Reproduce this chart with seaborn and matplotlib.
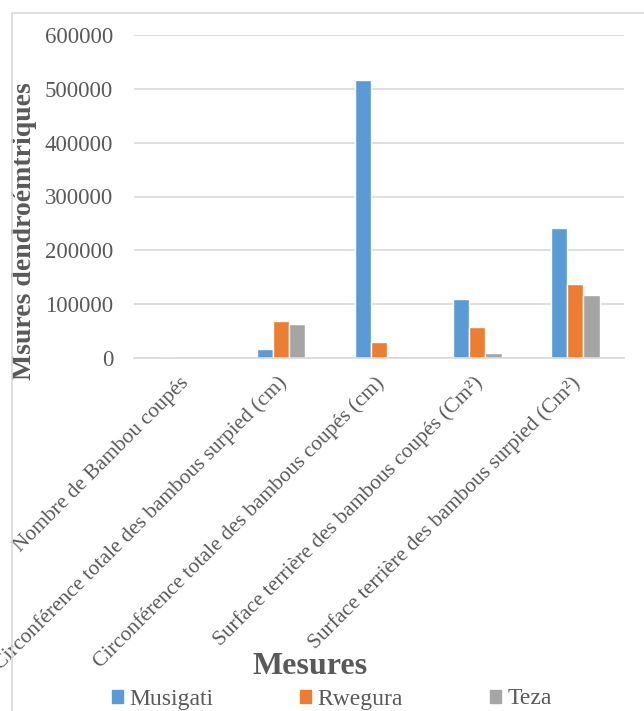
import numpy as np
import pandas as pd
import matplotlib
matplotlib.use("Agg")
import matplotlib.pyplot as plt
import matplotlib.transforms as mtransforms
from matplotlib.patches import Rectangle
from matplotlib.font_manager import FontProperties
import seaborn as sns

mesures = [
    "Nombre de Bambou coupés",
    "Circonférence totale des bambous surpied (cm)",
    "Circonférence totale des bambous coupés (cm)",
    "Surface terrière des bambous coupés (Cm²)",
    "Surface terrière des bambous surpied (Cm²)",
]
sites = ["Musigati", "Rwegura", "Teza"]
musigati = [1000, 16000, 516000, 110000, 241500]
rwegura = [500, 68500, 29500, 58500, 137500]
teza = [200, 63000, 4500, 8500, 117000]
yticks = [0, 100000, 200000, 300000, 400000, 500000, 600000]

colors = ["#5B9BD5", "#ED7D31", "#A5A5A5"]
TXT = "#595959"
GRID = "#D9D9D9"
SERIF = ["Liberation Serif", "DejaVu Serif"]

df = pd.DataFrame({
    "Mesure": mesures * 3,
    "Site": [s for s in sites for _ in mesures],
    "Valeur": musigati + rwegura + teza,
})

sns.set_theme(style="white")
plt.rcParams["font.family"] = SERIF

fig = plt.figure(figsize=(6.44, 7.11), dpi=100)
ax = fig.add_axes([134 / 644, 1 - 358 / 711, 490 / 644, 323 / 711])

sns.barplot(data=df, x="Mesure", y="Valeur", hue="Site", palette=colors,
            width=0.5, saturation=1, ax=ax, legend=False)

ax.set_ylim(0, 600000)
ax.set_yticks(yticks)
ax.set_yticklabels([str(v) for v in yticks], fontsize=16.5, color=TXT)
ax.yaxis.grid(True, color=GRID, lw=1.2)
ax.set_axisbelow(True)
for s in ["top", "right", "left"]:
    ax.spines[s].set_visible(False)
ax.spines["bottom"].set_color(GRID)
ax.spines["bottom"].set_linewidth(1.2)
ax.tick_params(axis="both", length=0)
ax.tick_params(axis="y", pad=15)
ax.tick_params(axis="x", pad=16)

ax.set_xticks(range(len(mesures)))
ax.set_xticklabels(mesures, rotation=45, ha="right", va="center",
                   rotation_mode="anchor", fontsize=15.4, color=TXT)
shift = mtransforms.ScaledTranslation(0.03, 0, fig.dpi_scale_trans)
for lab in ax.get_xticklabels():
    lab.set_transform(lab.get_transform() + shift)

ax.set_xlabel("Mesures", fontsize=23, fontweight="bold", color=TXT)
ax.xaxis.set_label_coords(0.36, -0.91)
ax.set_ylabel("Msures dendroémtriques", fontsize=20, fontweight="bold", color=TXT)
ax.yaxis.set_label_coords(-0.198, 0.394)

handles = [Rectangle((0, 0), 1, 1, color=c) for c in colors]
leg = fig.legend(handles, sites, loc="center", bbox_to_anchor=(0.515, 1 - 699 / 711),
                 ncol=3, frameon=False, prop=FontProperties(family=SERIF, size=17),
                 handlelength=0.47, handleheight=0.47, handletextpad=0.25,
                 columnspacing=3.7, labelcolor=TXT, borderpad=0.1)
for t in leg.get_texts():
    t.set_fontfamily(SERIF)

fig.patches.append(Rectangle((12 / 644, -0.1), 1.1, 1.1 - 13 / 711, transform=fig.transFigure,
                             fill=False, edgecolor=GRID, lw=1.2))

fig.savefig("out.png", dpi=100)
plt.close(fig)
